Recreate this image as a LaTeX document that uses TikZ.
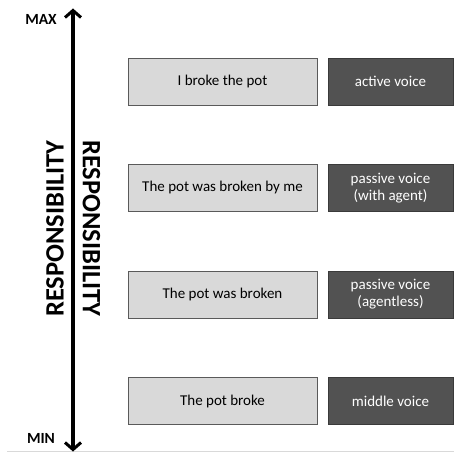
\documentclass[tikz,border=0pt]{standalone}
\usepackage{fontspec}
\setmainfont{Carlito}
\usetikzlibrary{arrows.meta}
\definecolor{lightbox}{HTML}{D9D9D9}
\definecolor{lightedge}{HTML}{5A5A5A}
\definecolor{darkbox}{HTML}{525252}
\definecolor{darkedge}{HTML}{3A3A3A}
\begin{document}
\begin{tikzpicture}[x=1pt,y=-1pt,
  sentbox/.style={draw=lightedge, fill=lightbox, line width=0.8pt, minimum width=189pt, minimum height=47pt, inner sep=0pt, font=\fontsize{15}{17}\selectfont, text=black},
  voicebox/.style={draw=darkedge, fill=darkbox, line width=0.8pt, minimum width=125pt, minimum height=47pt, inner sep=0pt, align=center, font=\fontsize{15}{17}\selectfont, text=white},
  endlabel/.style={inner sep=0pt, font=\fontsize{15.5}{18}\selectfont\bfseries},
  axislabel/.style={inner sep=0pt, font=\fontsize{26.5}{30}\selectfont\bfseries},
  axisarrow/.style={line width=3.2pt, {Straight Barb[length=7pt,width=16pt,line width=3pt]}-{Straight Barb[length=7pt,width=16pt,line width=3pt]}}
]
\useasboundingbox (0,0) rectangle (454,454);
\fill[white] (0,0) rectangle (454,454);
\draw[black!15, line width=1pt] (7,451.5) -- (454,451.5);

\coordinate (top) at (73,8.5);
\coordinate (bot) at (73,451.5);
\draw[axisarrow] (bot) -- (top);

\node[endlabel] (max) at (41,19) {MAX};
\node[endlabel] (min) at (41,438.5) {MIN};
\node[axislabel, rotate=90] (respL) at (55,228.5) {RESPONSIBILITY};
\node[axislabel, rotate=-90] (respR) at (91.5,228.5) {RESPONSIBILITY};

\node[sentbox] (s1) at (222.5,81.5) {I broke the pot};
\node[sentbox] (s2) at (222.5,188) {The pot was broken by me};
\node[sentbox] (s3) at (222.5,294.5) {The pot was broken};
\node[sentbox] (s4) at (222.5,401) {The pot broke};

\node[voicebox] (v1) at (390.5,81.5) {active voice};
\node[voicebox] (v2) at (390.5,188) {passive voice\\(with agent)};
\node[voicebox] (v3) at (390.5,294.5) {passive voice\\(agentless)};
\node[voicebox] (v4) at (390.5,401) {middle voice};
\end{tikzpicture}
\end{document}
